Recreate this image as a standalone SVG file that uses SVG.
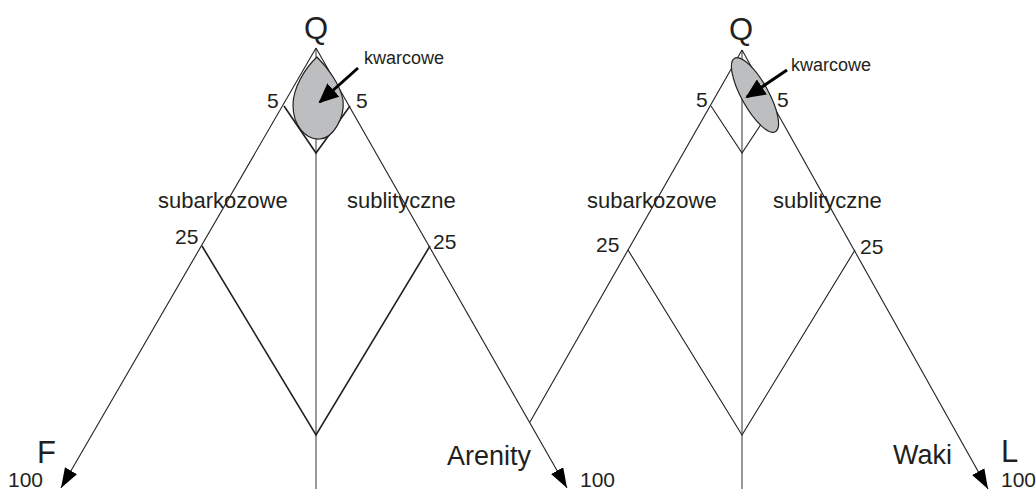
<svg xmlns="http://www.w3.org/2000/svg" width="1036" height="489" viewBox="0 0 1036 489">
<defs>
<style>
.ax{stroke:#231f20;stroke-width:1.1;fill:none}
.bold{stroke:#231f20;stroke-width:1.6;fill:none}
.vert{stroke:#7f7f7f;stroke-width:1.6;fill:none}
.field{fill:#bcbec0;stroke:#231f20;stroke-width:1.2}
.ptr{stroke:#000;stroke-width:3;fill:none}
text{font-family:"Liberation Sans",Arial,sans-serif;fill:#231f20}
.lab{font-size:22px}
.num{font-size:21px}
.big{font-size:31px}
.name{font-size:27px}
.kw{font-size:18px}
</style>
<marker id="axhead" viewBox="0 0 20 14" refX="20" refY="7" markerWidth="20" markerHeight="14" markerUnits="userSpaceOnUse" orient="auto">
<path d="M0,0 L20,7 L0,14 Z" fill="#000"/>
</marker>
<marker id="ptrhead" viewBox="0 0 20 18" refX="18" refY="9" markerWidth="20" markerHeight="18" markerUnits="userSpaceOnUse" orient="auto">
<path d="M0,0 L20,9 L0,18 Z" fill="#000"/>
</marker>
</defs>
<g id="connectors">
<!-- left triangle -->
<line class="vert" x1="316" y1="48" x2="316" y2="489"/>
<polyline class="bold" points="284,106 316,153 350,106"/>
<polyline class="bold" points="202,246 316,435 430,246"/>
<line class="ax" x1="316" y1="48" x2="61" y2="488" marker-end="url(#axhead)"/>
<line class="ax" x1="316" y1="48" x2="567" y2="488" marker-end="url(#axhead)"/>
<!-- right triangle -->
<line class="vert" x1="742" y1="50" x2="742" y2="489"/>
<polyline class="ax" points="711,106 742,153 773,106"/>
<polyline class="ax" points="628,250 742,435 855,250"/>
<line class="ax" x1="742" y1="50" x2="530" y2="422"/>
<line class="ax" x1="742" y1="50" x2="988" y2="489" marker-end="url(#axhead)"/>
</g>
<g id="field-left">
<path class="field" d="M317,57 C327,67 340,84 343,100 C345,118 333,138 320,139 C305,140 293,125 293,105 C293,88 305,68 317,57 Z"/>
</g>
<g id="field-right">
<ellipse class="field" cx="755" cy="95" rx="42" ry="13.5" transform="rotate(61 755 95)"/>
</g>
<g id="pointers">
<line class="ptr" x1="358" y1="68" x2="320" y2="102" marker-end="url(#ptrhead)"/>
<line class="ptr" x1="787" y1="70" x2="747" y2="97" marker-end="url(#ptrhead)"/>
</g>
<g id="labels-left">
<text class="big" x="316" y="39" text-anchor="middle">Q</text>
<text class="kw" x="364" y="64">kwarcowe</text>
<text class="num" x="267" y="108">5</text>
<text class="num" x="356" y="108">5</text>
<text class="lab" x="158" y="208">subarkozowe</text>
<text class="lab" x="347" y="208">sublityczne</text>
<text class="num" x="175" y="244">25</text>
<text class="num" x="433" y="249">25</text>
<text class="big" x="37" y="463">F</text>
<text class="num" x="8" y="487">100</text>
<text class="name" x="447" y="465">Arenity</text>
<text class="num" x="580" y="487">100</text>
</g>
<g id="labels-right">
<text class="big" x="741" y="40" text-anchor="middle">Q</text>
<text class="kw" x="791" y="71">kwarcowe</text>
<text class="num" x="696" y="107">5</text>
<text class="num" x="777" y="107">5</text>
<text class="lab" x="587" y="208">subarkozowe</text>
<text class="lab" x="773" y="208">sublityczne</text>
<text class="num" x="596" y="252">25</text>
<text class="num" x="860" y="254">25</text>
<text class="name" x="893" y="464">Waki</text>
<text class="big" x="1001" y="462">L</text>
<text class="num" x="1001" y="487">100</text>
</g>
</svg>
